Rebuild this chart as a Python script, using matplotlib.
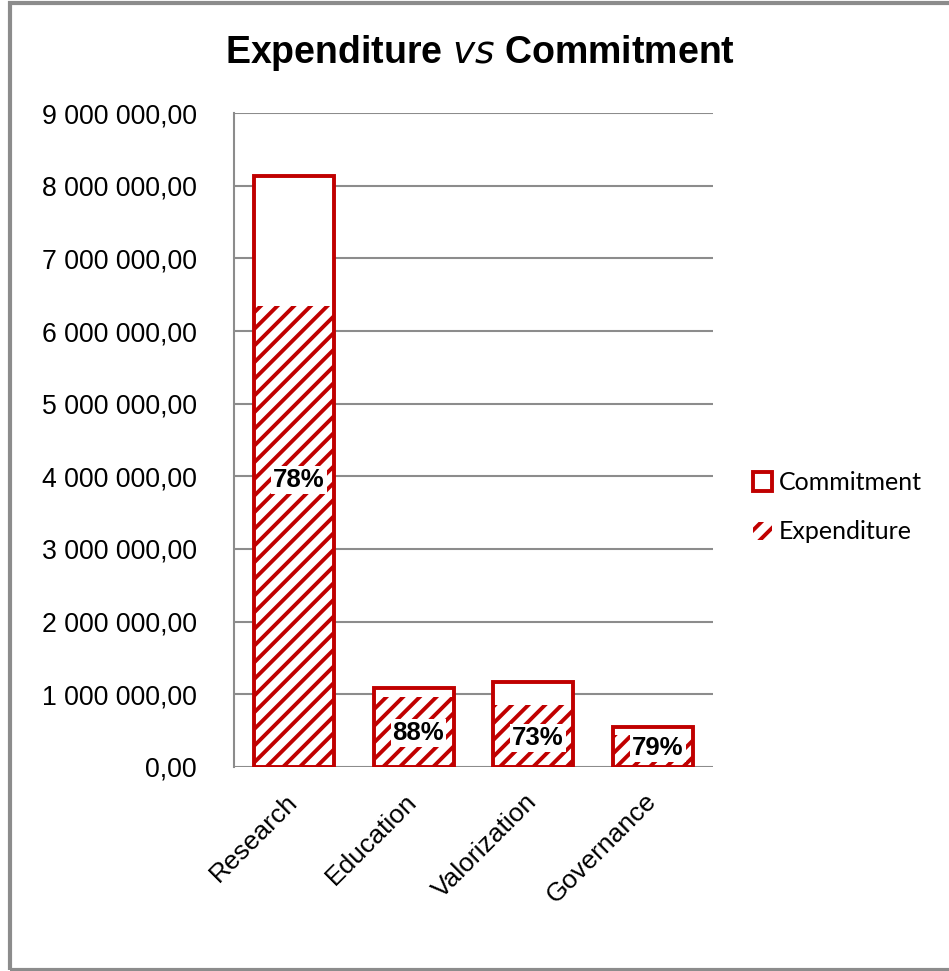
import numpy as np
import matplotlib
matplotlib.use("Agg")
import matplotlib.pyplot as plt
from matplotlib.patches import Rectangle
from matplotlib.ticker import FuncFormatter, MultipleLocator
from matplotlib.transforms import ScaledTranslation

# Budget by activity line
categories = ["Research", "Education", "Valorization", "Governance"]
commitment = [8130000, 1087000, 1170000, 550000]
spent_pct = [78, 88, 73, 79]
expenditure = [c * p / 100 for c, p in zip(commitment, spent_pct)]
label_y = [3950000, 470000, 400000, 260000]

red = "#c00000"
grey = "#8c8c8c"

plt.rcParams["font.family"] = ["Liberation Sans", "DejaVu Sans"]
plt.rcParams["hatch.linewidth"] = 2.8

fig = plt.figure(figsize=(9.49, 9.71), dpi=100)
ax = fig.add_axes([234 / 949, 1 - 767 / 971, (713 - 234) / 949, (767 - 113) / 971])

x = np.arange(len(categories))
w = 0.67

ax.bar(x, commitment, width=w, color="white", edgecolor="none", zorder=2)
ax.bar(x, expenditure, width=w, color="white", edgecolor=red, linewidth=0,
       hatch="//", zorder=3, label="Expenditure")
ax.bar(x, commitment, width=w, fill=False, edgecolor=red, linewidth=2.8,
       zorder=4, label="Commitment")

for xi, yi, p in zip(x, label_y, spent_pct):
    ax.text(xi + 0.04, yi, f"{p}%", ha="center", va="center", fontsize=18.5,
            fontweight="bold", zorder=5,
            bbox=dict(facecolor="white", edgecolor="none", pad=1.5))


def money(v, pos):
    s = f"{v:,.2f}"
    return s.replace(",", " ").replace(".", ",")


ax.set_ylim(0, 9000000)
ax.set_xlim(-0.5, len(categories) - 0.5)
ax.yaxis.set_major_locator(MultipleLocator(1000000))
ax.yaxis.set_major_formatter(FuncFormatter(money))
ax.grid(axis="y", color=grey, linewidth=1.5, zorder=0)
ax.set_axisbelow(True)

for s in ["top", "right", "bottom"]:
    ax.spines[s].set_visible(False)
ax.spines["left"].set_color(grey)
ax.spines["left"].set_linewidth(1.5)

ax.tick_params(axis="y", length=0, pad=27, labelsize=19.2)
ax.tick_params(axis="x", length=0, pad=16)
ax.set_xticks(x)
ax.set_xticklabels(categories, rotation=45, ha="right", va="top", fontsize=19)
shift = ScaledTranslation(8 / 100, 0, fig.dpi_scale_trans)
for lab in ax.get_xticklabels():
    lab.set_transform(lab.get_transform() + shift)

fig.text(480 / 949, 1 - 53 / 971, "Expenditure $\\bf{\\it{vs}}$ Commitment",
         ha="center", va="center", fontsize=27, fontweight="bold")

handles, labels = ax.get_legend_handles_labels()
ax.legend(handles[::-1], labels[::-1], loc="center left",
          bbox_to_anchor=(1.083, 0.397), frameon=False, borderpad=0,
          borderaxespad=0, prop={"family": "Lato", "size": 18},
          handlelength=0.75, handleheight=0.75, handletextpad=0.3,
          labelspacing=1.05)

fig.patches.append(Rectangle((10 / 949, 1 / 971), 1.0, 1 - 4 / 971,
                             transform=fig.transFigure, fill=False,
                             edgecolor=grey, linewidth=3, clip_on=False))

fig.savefig("out.png", dpi=100)
